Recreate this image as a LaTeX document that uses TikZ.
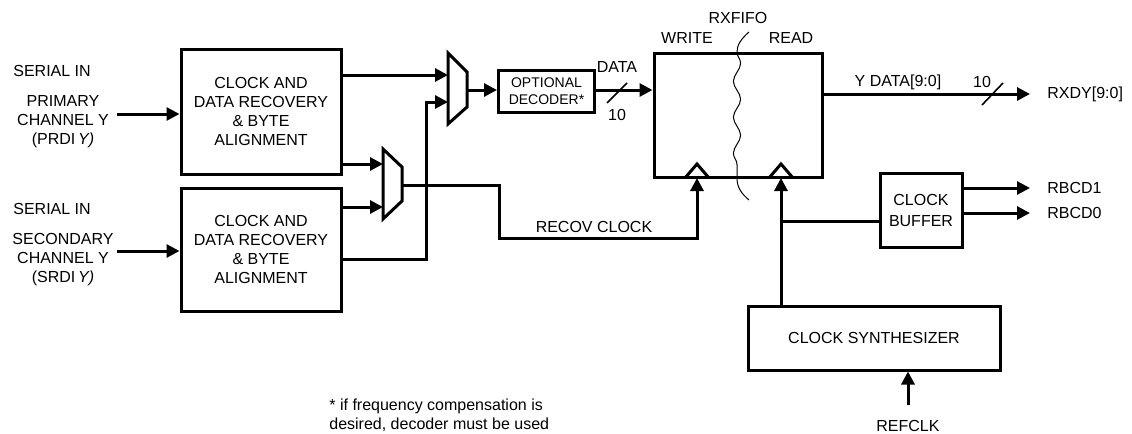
\documentclass[tikz,border=0pt]{standalone}
\usepackage{fontspec}
\setmainfont{Liberation Sans}
\usetikzlibrary{arrows.meta,positioning,decorations.pathmorphing}

\begin{document}
\begin{tikzpicture}[
    x=0.5pt, y=-0.5pt,
    font=\fontsize{8}{9.5}\selectfont,
    block/.style={rectangle, draw, line width=1.5pt, align=center, inner sep=0pt},
    wire/.style={line width=1.5pt},
    arrow/.style={wire, -{Triangle[length=6.5pt,width=6.5pt]}},
    tick/.style={line width=0.8pt},
    lbl/.style={inner sep=0pt, align=center}
]
\useasboundingbox (0,0) rectangle (1132,434);

% Recovery blocks
\node[block, minimum width=80pt, minimum height=62.5pt] (cdra) at (261,111.5) {CLOCK AND\\DATA RECOVERY\\\& BYTE\\ALIGNMENT};
\node[block, minimum width=80pt, minimum height=61.5pt] (cdrb) at (261,249.5) {CLOCK AND\\DATA RECOVERY\\\& BYTE\\ALIGNMENT};

% Serial inputs
\node[lbl, anchor=west] (seria) at (13,71) {SERIAL IN};
\node[lbl] (prim) at (63,122) {PRIMARY\\CHANNEL Y\\(PRDI\,\textit{Y)}};
\node[lbl, anchor=west] (serib) at (13,209) {SERIAL IN};
\node[lbl] (secd) at (63,260) {SECONDARY\\CHANNEL Y\\(SRDI\,\textit{Y)}};
\coordinate (prin) at (117,114);
\coordinate (scin) at (117,251);
\draw[arrow] (prin) -- (prin -| cdra.west);
\draw[arrow] (scin) -- (scin -| cdrb.west);

% Multiplexers
\draw[wire] (448,53) -- (467,72) -- (467,107) -- (448,124) -- cycle;
\coordinate (muxain1) at (448,75);
\coordinate (muxain2) at (448,102);
\coordinate (muxaout) at (467,90);
\draw[wire] (383,149) -- (402,167) -- (402,201) -- (383,219) -- cycle;
\coordinate (muxbin1) at (383,164);
\coordinate (muxbin2) at (383,207);
\coordinate (muxbout) at (402,185);

% Decoder and FIFO
\node[block, minimum width=48pt, minimum height=21pt, font=\fontsize{7}{8.5}\selectfont] (dec) at (546.5,91.5) {OPTIONAL\\DECODER*};
\node[block, minimum width=84pt, minimum height=62pt] (fifo) at (738,115) {};
\node[block, minimum width=41pt, minimum height=37pt, font=\fontsize{8}{10.5}\selectfont] (buf) at (921,210.5) {CLOCK\\BUFFER};
\node[block, minimum width=126pt, minimum height=32pt] (synth) at (874,338) {CLOCK SYNTHESIZER};

% FIFO labels
\node[lbl] (rxfifo) at (738,18) {RXFIFO};
\node[lbl] (wr) at (687,38) {WRITE};
\node[lbl] (rd) at (791,38) {READ};
\draw[line width=0.5pt] (749,32) .. controls (741,39) and (737,45) .. (737,52);
\draw[line width=0.5pt, decorate, decoration={snake, segment length=18pt, amplitude=1.8pt}] (737,52) -- (737,178);
\draw[line width=0.5pt] (737,178) .. controls (737,188) and (742,194) .. (749,200);

% Clock inputs
\coordinate (wclk) at (697,178);
\coordinate (rclk) at (781,178);
\draw[wire] (685,178) -- (697,164) -- (709,178);
\draw[wire] (769,178) -- (781,164) -- (793,178);

% Data path
\draw[arrow] (cdra.east |- muxain1) -- (muxain1);
\draw[arrow] (cdra.east |- muxbin1) -- (muxbin1);
\draw[arrow] (cdrb.east |- muxbin2) -- (muxbin2);
\coordinate (bend) at (426,259);
\draw[arrow] (cdrb.east |- bend) -- (bend) |- (muxain2);
\draw[arrow] (muxaout) -- (muxaout -| dec.west);
\draw[arrow] (dec.east |- muxaout) -- (fifo.west |- muxaout);
\draw[tick] (607,103) -- (627,83);
\node[lbl] (data) at (617,67) {DATA};
\node[lbl] (wida) at (617,115) {10};

% Recovered clock
\coordinate (rcv) at (499,238);
\draw[arrow] (muxbout) -| (rcv) -| (wclk);
\node[lbl] (rcvlbl) at (594,227) {RECOV CLOCK};

% Outputs
\coordinate (rxdy) at (1030,94);
\draw[arrow] (fifo.east |- rxdy) -- (rxdy);
\draw[tick] (982,105) -- (1003,83);
\node[lbl] (ydata) at (898,82) {Y DATA[9:0]};
\node[lbl] (widb) at (982,82) {10};
\node[lbl, right=8.5pt of rxdy] (rxdylbl) {RXDY[9:0]};

% Read clock and buffer
\coordinate (rtap) at (781,221);
\draw[arrow] (synth.north -| rclk) -- (rclk);
\draw[wire] (rtap) -- (rtap -| buf.west);
\coordinate (rbcda) at (1030,188);
\coordinate (rbcdb) at (1030,213);
\draw[arrow] (buf.east |- rbcda) -- (rbcda);
\draw[arrow] (buf.east |- rbcdb) -- (rbcdb);
\node[lbl, right=8.5pt of rbcda] (rbcdalbl) {RBCD1};
\node[lbl, right=8.5pt of rbcdb] (rbcdblbl) {RBCD0};

% Reference clock
\node[lbl] (refclk) at (908,426) {REFCLK};
\draw[arrow] ([yshift=7.5pt]refclk.north) -- (refclk.north |- synth.south);

% Footnote
\node[lbl, align=left, anchor=west] (note) at (329,415) {* if frequency compensation is\\desired, decoder must be used};

\end{tikzpicture}
\end{document}
